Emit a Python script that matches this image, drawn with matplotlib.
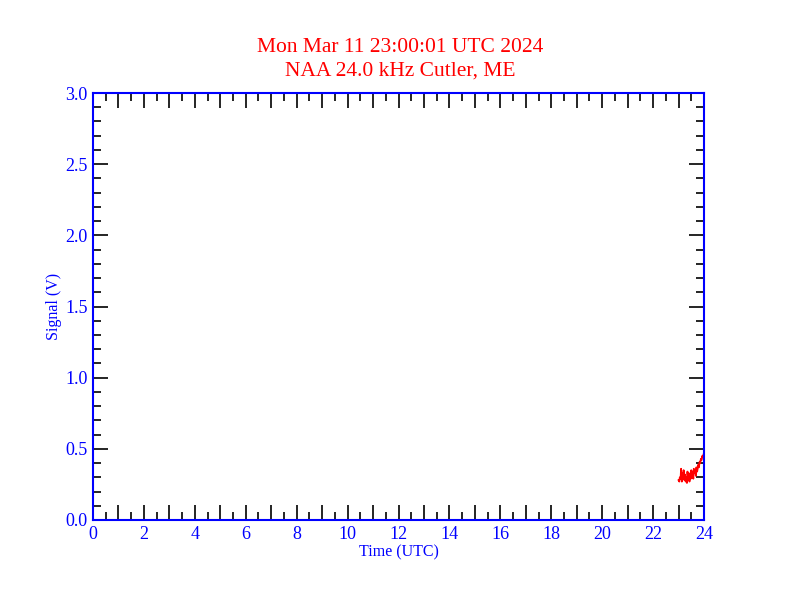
import numpy as np
import matplotlib
matplotlib.use("Agg")
import matplotlib.pyplot as plt
from matplotlib.ticker import MultipleLocator

title_lines = ["Mon Mar 11 23:00:01 UTC 2024", "NAA 24.0 kHz Cutler, ME"]

# signal samples (hours UTC, volts)
hours = [23.00, 23.03, 23.05, 23.08, 23.10, 23.13, 23.15, 23.18, 23.20, 23.23,
         23.25, 23.28, 23.30, 23.33, 23.35, 23.38, 23.40, 23.43, 23.45, 23.48,
         23.50, 23.53, 23.55, 23.58, 23.60, 23.63, 23.65, 23.68, 23.70, 23.73,
         23.75, 23.78, 23.80, 23.83, 23.85, 23.88, 23.90, 23.93, 23.95, 23.98]
signal = [0.28, 0.27, 0.30, 0.29, 0.36, 0.27, 0.33, 0.29, 0.35, 0.28,
          0.32, 0.27, 0.30, 0.26, 0.34, 0.28, 0.33, 0.27, 0.31, 0.29,
          0.35, 0.30, 0.34, 0.29, 0.36, 0.33, 0.35, 0.31, 0.37, 0.34,
          0.36, 0.39, 0.37, 0.41, 0.40, 0.43, 0.42, 0.45, 0.44, 0.46]

fig = plt.figure(figsize=(7.92, 6.12), dpi=100)
ax = fig.add_axes([93 / 792, 1 - 520 / 612, (704 - 93) / 792, (520 - 93) / 612])

serif = ["Liberation Serif", "DejaVu Serif"]

ax.plot(hours, signal, color="red", lw=1.3)

ax.set_xlim(0, 24)
ax.set_ylim(0, 3.0)

for s in ax.spines.values():
    s.set_color("blue")
    s.set_linewidth(1.5)

ax.tick_params(which="both", direction="in", top=True, right=True,
               colors="black", labelcolor="blue", width=1.2)
ax.tick_params(which="major", length=11, pad=4)
ax.tick_params(which="minor", length=6)

# hourly long ticks on x, labels every 2 h
ax.set_xticks(np.arange(0, 25, 1))
ax.set_xticklabels([str(h) if h % 2 == 0 else "" for h in range(25)])
ax.xaxis.set_minor_locator(MultipleLocator(0.5))
ax.set_yticks(np.arange(0, 3.01, 0.5))
ax.set_yticklabels([f"{v:.1f}" for v in np.arange(0, 3.01, 0.5)])
ax.yaxis.set_minor_locator(MultipleLocator(0.1))

for lbl in ax.get_xticklabels() + ax.get_yticklabels():
    lbl.set_fontfamily(serif)
    lbl.set_fontsize(13)

ax.set_xlabel("Time (UTC)", color="blue", fontsize=11.5, family=serif, labelpad=1)
ax.set_ylabel("Signal (V)", color="blue", fontsize=11.5, family=serif, labelpad=2)

fig.text(0.505, 1 - 48 / 612, title_lines[0], color="red", fontsize=15.5,
         family=serif, ha="center", va="center")
fig.text(0.505, 1 - 71 / 612, title_lines[1], color="red", fontsize=15.5,
         family=serif, ha="center", va="center")

fig.savefig("out.png", dpi=100)
